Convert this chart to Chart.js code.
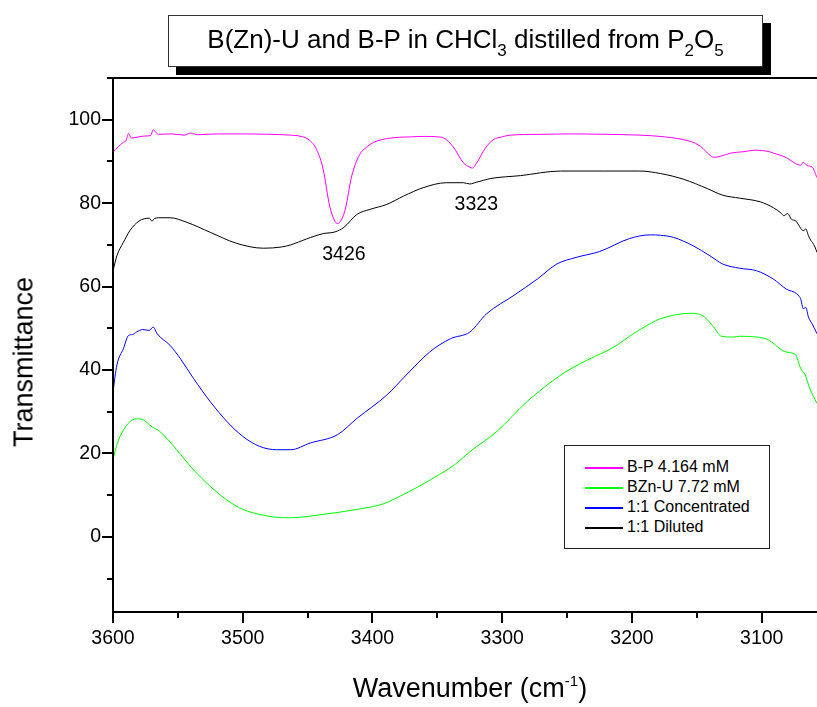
<!DOCTYPE html>
<html>
<head>
<meta charset="utf-8">
<script src="https://cdn.jsdelivr.net/npm/chart.js@4.4.0/dist/chart.umd.min.js"></script>
<style>
  body { margin: 0; background: #fff; }
  #wrap { position: relative; width: 817px; height: 707px; overflow: hidden;
          font-family: "Liberation Sans", Arial, sans-serif; color: #000; }
  #ir { position: absolute; left: 0; top: 0; }
  .title-box { position: absolute; left: 168px; top: 15px; width: 595px; height: 52px;
               box-sizing: border-box; border: 1px solid #333; background: #fff;
               box-shadow: 8px 8px 0 #000; font-size: 26px; line-height: 46px;
               text-align: center; white-space: nowrap; }
  .title-box sub { font-size: 17px; vertical-align: -8px; line-height: 0; }
  .ytitle { position: absolute; left: 24px; top: 362px; width: 300px; font-size: 27px;
            line-height: 27px; text-align: center;
            transform: translate(-50%, -50%) rotate(-90deg); }
  .xtitle { position: absolute; left: 470px; top: 675px; font-size: 27px; line-height: 27px;
            transform: translateX(-50%); white-space: nowrap; }
  .xtitle sup { font-size: 15px; vertical-align: 11px; line-height: 0; }
  .legend { position: absolute; left: 564px; top: 445px; width: 206px; height: 104px;
            box-sizing: border-box; border: 1.5px solid #222; background: #fff;
            padding-top: 11px; font-size: 16px; }
  .legend .row { position: relative; height: 20px; line-height: 20px; }
  .legend .swatch { position: absolute; left: 20px; top: 10px; width: 38px; height: 2px; }
  .legend .txt { position: absolute; left: 62px; top: 0; white-space: nowrap; }
</style>
</head>
<body>
<div id="wrap">
  <canvas id="ir" width="817" height="707"></canvas>
  <div class="title-box">B(Zn)-U and B-P in CHCl<sub>3</sub> distilled from P<sub>2</sub>O<sub>5</sub></div>
  <div class="ytitle">Transmittance</div>
  <div class="xtitle">Wavenumber (cm<sup>-1</sup>)</div>
  <div class="legend" id="legend"></div>
</div>
<script>
// B-P 4.164 mM
const bpWn = [3600, 3596, 3592, 3590, 3588, 3586, 3580, 3575, 3571, 3569, 3567, 3565, 3555, 3545, 3540,
  3535, 3520, 3500, 3480, 3463, 3455, 3449, 3443, 3438, 3433, 3429.5, 3427, 3424, 3421, 3416, 3410,
  3405, 3399, 3386, 3370, 3360, 3350, 3345, 3338, 3330, 3325, 3323, 3320, 3313, 3307, 3300, 3294,
  3270, 3248, 3220, 3194, 3175, 3155, 3147, 3140, 3137, 3132, 3124, 3115, 3104, 3095, 3091, 3081,
  3074, 3070, 3068, 3065, 3061, 3057.4];
const bpT = [92.2, 93.5, 94.6, 95.0, 96.7, 95.6, 95.9, 96.1, 96.2, 97.6, 97.0, 96.5, 96.6, 96.3, 96.8,
  96.4, 96.6, 96.6, 96.5, 96.3, 96.0, 95.2, 92.8, 88.1, 79.3, 76.0, 75.1, 76.0, 78.5, 86.5, 91.6,
  93.3, 94.6, 95.6, 95.9, 96.0, 95.9, 95.6, 93.6, 89.7, 88.6, 88.4, 89.5, 93.2, 95.2, 95.9, 96.3,
  96.5, 96.6, 96.5, 96.3, 95.9, 94.8, 93.6, 91.5, 91.0, 91.2, 92.0, 92.3, 92.7, 92.4, 92.0, 90.9,
  89.5, 89.1, 89.8, 89.0, 88.6, 86.1];

// BZn-U 7.72 mM
const bznWn = [3600, 3597, 3592, 3587, 3582, 3577, 3570, 3564, 3551, 3538, 3525, 3512, 3500, 3487,
  3474, 3463, 3438, 3412, 3392, 3374, 3353, 3335, 3325, 3304, 3281, 3253, 3235, 3214, 3199, 3186,
  3178, 3155, 3146, 3138, 3131, 3122, 3117, 3104, 3096, 3081, 3074, 3070, 3066.5, 3063, 3057.4];
const bznT = [18.5, 22.1, 25.6, 27.6, 28.3, 28.1, 26.4, 25.3, 20.9, 16.1, 12.1, 8.8, 6.6, 5.4,
  4.7, 4.6, 5.4, 6.6, 7.9, 10.5, 14.1, 17.7, 20.4, 25.3, 32.4, 39.2, 42.3, 45.5, 48.7, 51.1,
  52.3, 53.6, 53.1, 50.7, 48.1, 47.9, 48.1, 47.9, 47.4, 44.3, 43.7, 40.4, 38.8, 35.6, 32.0];

// 1:1 Concentrated
const concWn = [3600, 3597, 3592, 3588, 3585, 3582, 3577, 3572, 3569, 3566, 3556, 3548, 3538, 3525,
  3512, 3500, 3487, 3474, 3463, 3448, 3427, 3412, 3389, 3374, 3356, 3340, 3325, 3312, 3291, 3273,
  3258, 3243, 3225, 3202, 3186, 3178, 3168, 3153, 3140, 3130, 3117, 3104, 3091, 3081, 3073, 3071,
  3070, 3068, 3066, 3064, 3061, 3057.4];
const concT = [34.8, 41.2, 45.1, 48.3, 48.5, 49.1, 49.7, 49.5, 50.3, 48.7, 45.9, 42.7, 38.0, 32.4,
  27.6, 24.1, 21.7, 20.9, 20.9, 22.5, 24.5, 28.4, 34.0, 38.8, 44.3, 47.5, 49.1, 53.5, 57.9, 61.8,
  65.4, 67.0, 68.4, 71.5, 72.4, 72.3, 71.8, 69.8, 67.4, 65.4, 64.4, 63.8, 61.8, 59.4, 58.3, 57.6,
  57.1, 54.7, 55.0, 52.7, 51.0, 48.7];

// 1:1 Diluted
const dilWn = [3600, 3597, 3592, 3587, 3580, 3572, 3570, 3568, 3565, 3556, 3543, 3525, 3505, 3484,
  3470, 3463, 3451, 3438, 3429, 3422, 3412, 3402, 3389, 3376, 3361, 3343, 3330, 3325, 3320, 3309,
  3286, 3255, 3222, 3194, 3178, 3160, 3142, 3130, 3117, 3101, 3091, 3085, 3083, 3080, 3077, 3074,
  3072, 3070, 3068, 3066, 3064, 3062, 3061, 3059, 3057.4];
const dilT = [63.8, 67.4, 70.6, 73.4, 75.7, 76.4, 75.7, 76.3, 76.5, 76.5, 75.4, 73.0, 70.4, 69.2,
  69.5, 70.0, 71.4, 72.7, 73.1, 74.2, 77.3, 78.5, 79.7, 81.7, 83.7, 84.9, 84.9, 84.6, 85.0, 85.9,
  86.6, 87.7, 87.7, 87.7, 87.1, 85.7, 83.5, 81.9, 81.2, 80.3, 78.9, 77.6, 77.0, 77.5, 76.1, 75.8,
  75.0, 74.0, 73.4, 73.8, 72.2, 71.0, 70.6, 69.5, 68.2];

const seriesNames = ['B-P 4.164 mM', 'BZn-U 7.72 mM', '1:1 Concentrated', '1:1 Diluted'];
const seriesColors = ['#ff00ff', '#00ff00', '#0000ff', '#000000'];

// peak labels
const peakLabels = ['3426', '3323'];
const peakWn = [3422, 3320];
const peakT = [67.7, 79.7];

const xMin = 3057.4, xMax = 3600;
const yMin = -18, yMax = 110;

const toPoints = (wn, t) => wn.map((w, i) => ({ x: w, y: t[i] }));
const allSeries = [
  toPoints(bpWn, bpT),
  toPoints(bznWn, bznT),
  toPoints(concWn, concT),
  toPoints(dilWn, dilT)
];

// legend (html)
const legendEl = document.getElementById('legend');
seriesNames.forEach((name, i) => {
  const row = document.createElement('div');
  row.className = 'row';
  const sw = document.createElement('span');
  sw.className = 'swatch';
  sw.style.backgroundColor = seriesColors[i];
  const txt = document.createElement('span');
  txt.className = 'txt';
  txt.textContent = name;
  row.appendChild(sw);
  row.appendChild(txt);
  legendEl.appendChild(row);
});

const FONT = '"Liberation Sans", Arial, sans-serif';

// axis lines, tick marks, peak labels
const framePlugin = {
  id: 'frame',
  afterDraw(chart) {
    const { ctx, chartArea: a, scales: { x, y } } = chart;
    ctx.save();
    ctx.strokeStyle = '#000';
    ctx.lineWidth = 2;
    ctx.beginPath();
    ctx.moveTo(a.right, a.top);
    ctx.lineTo(a.left, a.top);
    ctx.lineTo(a.left, a.bottom);
    ctx.lineTo(a.right, a.bottom);
    x.ticks.forEach(t => {
      const px = Math.round(x.getPixelForValue(t.value));
      const len = t.value % 100 === 0 ? 11 : 6;
      ctx.moveTo(px, a.bottom);
      ctx.lineTo(px, a.bottom + len);
    });
    y.ticks.forEach(t => {
      const py = Math.round(y.getPixelForValue(t.value));
      const len = t.value % 20 === 0 ? 11 : 6;
      ctx.moveTo(a.left, py);
      ctx.lineTo(a.left - len, py);
    });
    ctx.stroke();

    ctx.fillStyle = '#000';
    ctx.font = '19.5px ' + FONT;
    ctx.textAlign = 'center';
    ctx.textBaseline = 'middle';
    peakLabels.forEach((lbl, i) => {
      ctx.fillText(lbl, x.getPixelForValue(peakWn[i]), y.getPixelForValue(peakT[i]));
    });
    ctx.restore();
  }
};

new Chart(document.getElementById('ir'), {
  type: 'line',
  data: {
    datasets: allSeries.map((pts, i) => ({
      label: seriesNames[i],
      data: pts,
      borderColor: seriesColors[i],
      borderWidth: 1,
      pointRadius: 0,
      fill: false,
      cubicInterpolationMode: 'monotone'
    }))
  },
  options: {
    responsive: false,
    animation: false,
    devicePixelRatio: 1,
    layout: { padding: { top: 78, right: 0, left: 0, bottom: 0 } },
    plugins: {
      legend: { display: false },
      tooltip: { enabled: false }
    },
    scales: {
      x: {
        type: 'linear',
        reverse: true,
        min: xMin,
        max: xMax,
        grid: { display: false, drawTicks: false },
        border: { display: false },
        ticks: {
          stepSize: 50,
          includeBounds: false,
          autoSkip: false,
          maxRotation: 0,
          padding: 15,
          color: '#000',
          font: { family: FONT, size: 19.5 },
          callback: (v) => (v % 100 === 0 ? String(v) : '')
        },
        afterFit: (s) => { s.height = 95; }
      },
      y: {
        min: yMin,
        max: yMax,
        grid: { display: false, drawTicks: false },
        border: { display: false },
        ticks: {
          stepSize: 10,
          includeBounds: false,
          autoSkip: false,
          padding: 12,
          color: '#000',
          font: { family: FONT, size: 19.5 },
          callback: (v) => (v % 20 === 0 && v <= 100 ? String(v) : '')
        },
        afterFit: (s) => { s.width = 113; }
      }
    }
  },
  plugins: [framePlugin]
});
</script>
</body>
</html>
